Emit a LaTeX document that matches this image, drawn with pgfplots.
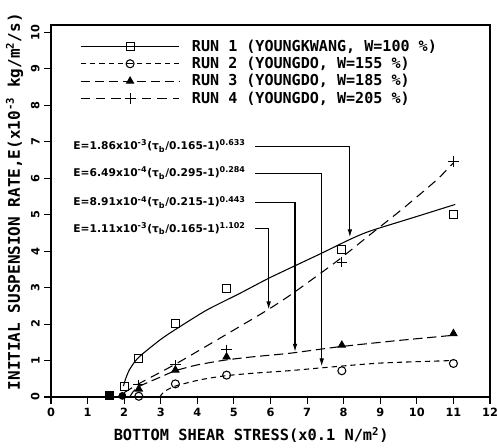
\documentclass[border=0pt]{standalone}
\usepackage{fontspec}
\setmainfont{DejaVu Sans}
\newfontfamily\plotter{DejaVu Sans Mono}
\usepackage{pgfplots}
\pgfplotsset{compat=1.18}
\usetikzlibrary{arrows.meta}

\begin{document}
\begin{tikzpicture}
\begin{axis}[
  scale only axis, width=329.25pt, height=279pt,
  xmin=0, xmax=12, ymin=0, ymax=10.2,
  xtick={0,...,12}, ytick={0,...,10},
  tick pos=left, tick align=outside, major tick length=5pt,
  axis line style={line width=0.9pt},
  every tick/.style={black, line width=0.8pt},
  /pgf/number format/assume math mode=true,
  tick label style={font=\bfseries\fontsize{8.5}{10}\selectfont},
  yticklabel={\rotatebox{90}{\pgfmathprintnumber{\tick}}},
  xlabel={\plotter\bfseries\fontsize{11.5}{13}\selectfont BOTTOM SHEAR STRESS(x0.1 N/m\textsuperscript{2})},
  xlabel style={at={(axis description cs:0.456,0)}, anchor=center, yshift=-28.5pt},
  ylabel={\plotter\bfseries\fontsize{12}{14}\selectfont INITIAL SUSPENSION RATE,E(x10\textsuperscript{-3} kg/m\textsuperscript{2}/s)},
  ylabel style={at={(axis description cs:-0.083,0.525)}, anchor=center, rotate=0},
  legend style={draw=none, fill=none, at={(0.066,0.965)}, anchor=north west,
    inner sep=0pt, row sep=1pt,
    nodes={inner sep=1pt, anchor=west},
    font=\plotter\bfseries\fontsize{11.3}{12}\selectfont},
  legend image code/.code={\draw[mark repeat=2,mark phase=2,#1] plot coordinates {(0pt,0pt) (37pt,0pt) (74pt,0pt)};},
  every axis plot/.append style={black, line width=0.8pt},
]
\addlegendimage{solid, mark=square, mark size=3pt, mark options={solid}}
\addlegendentry{\hspace*{8pt}RUN 1 (YOUNGKWANG, W=100 \%)}
\addlegendimage{dash pattern=on 4pt off 3pt, mark=o, mark size=3pt, mark options={solid}}
\addlegendentry{\hspace*{8pt}RUN 2 (YOUNGDO, W=155 \%)}
\addlegendimage{dash pattern=on 7pt off 3.5pt, mark=triangle*, mark size=3pt, mark options={solid}}
\addlegendentry{\hspace*{8pt}RUN 3 (YOUNGDO, W=185 \%)}
\addlegendimage{dash pattern=on 7pt off 4.5pt, mark=+, mark size=4pt, mark options={solid}}
\addlegendentry{\hspace*{8pt}RUN 4 (YOUNGDO, W=205 \%)}

% fitted curves
\addplot[solid, smooth, tension=0.4, no markers, forget plot] coordinates {
  (1.98,0.3) (2.04,0.5) (2.14,0.74) (2.3,0.98) (2.5,1.18) (3.0,1.58) (3.4,1.85) (4.25,2.38)
  (5.16,2.84) (6.0,3.28) (7.35,3.92) (8.17,4.32) (8.72,4.55) (10.0,4.95) (11.05,5.28)};
\addplot[dash pattern=on 4pt off 3pt, smooth, tension=0.4, no markers, forget plot] coordinates {
  (2.97,0.0) (3.1,0.15) (3.4,0.3) (4.07,0.47) (4.75,0.58) (5.5,0.65) (6.5,0.72)
  (7.4,0.8) (9.0,0.93) (11.0,1.0)};
\addplot[dash pattern=on 7pt off 3.5pt, smooth, tension=0.4, no markers, forget plot] coordinates {
  (2.15,0.0) (2.25,0.15) (2.43,0.3) (3.0,0.55) (3.4,0.72) (4.0,0.88) (4.75,1.01)
  (5.5,1.1) (6.53,1.2) (7.9,1.38) (9.5,1.55) (11.08,1.7)};
\addplot[dash pattern=on 7pt off 4.5pt, smooth, tension=0.4, no markers, forget plot] coordinates {
  (2.0,0.12) (2.43,0.38) (3.4,0.9) (4.8,1.72) (5.94,2.4) (6.62,2.85) (7.81,3.72)
  (8.72,4.45) (9.6,5.15) (10.54,5.95) (11.0,6.42)};

% measured points
\addplot[only marks, mark=square, mark size=3pt, forget plot] coordinates {
  (2.0,0.28) (2.4,1.05) (3.4,2.02) (4.8,2.97) (7.95,4.05) (11.0,5.0)};
\addplot[only marks, mark=o, mark size=3pt, forget plot] coordinates {
  (2.4,0.02) (3.4,0.36) (4.8,0.6) (7.95,0.72) (11.0,0.92)};
\addplot[only marks, mark=triangle*, mark size=3pt, forget plot] coordinates {
  (2.4,0.22) (3.4,0.74) (4.8,1.1) (7.95,1.42) (11.0,1.74)};
\addplot[only marks, mark=+, mark size=4pt, forget plot] coordinates {
  (2.4,0.33) (3.4,0.88) (4.8,1.29) (7.95,3.7) (11.0,6.45)};
\addplot[only marks, mark=square*, mark size=3pt, forget plot] coordinates {(1.6,0.03)};
\addplot[only marks, mark=*, mark size=2.5pt, forget plot] coordinates {(1.95,0.03)};

% fitted equations
\tikzset{eq/.style={anchor=west, inner sep=1pt, font=\bfseries\fontsize{8}{9}\selectfont},
  arr/.style={line width=0.8pt, -{Latex[length=6pt,width=3.5pt]}}}
\node[eq] (e1) at (axis cs:0.57,6.88) {E=1.86x10\textsuperscript{-3}(τ\textsubscript{b}/0.165-1)\textsuperscript{0.633}};
\node[eq] (e2) at (axis cs:0.57,6.14) {E=6.49x10\textsuperscript{-4}(τ\textsubscript{b}/0.295-1)\textsuperscript{0.284}};
\node[eq] (e3) at (axis cs:0.57,5.34) {E=8.91x10\textsuperscript{-4}(τ\textsubscript{b}/0.215-1)\textsuperscript{0.443}};
\node[eq] (e4) at (axis cs:0.57,4.62) {E=1.11x10\textsuperscript{-3}(τ\textsubscript{b}/0.165-1)\textsuperscript{1.102}};
\draw[arr] ([xshift=6pt]e1.east) -| (axis cs:8.17,4.38);
\draw[arr] ([xshift=6pt]e2.east) -| (axis cs:7.4,0.84);
\draw[arr] ([xshift=6pt]e3.east) -| (axis cs:6.67,1.24);
\draw[arr] ([xshift=6pt]e4.east) -| (axis cs:5.95,2.4);

\coordinate (bl) at (rel axis cs:0,0);
\coordinate (tr) at (rel axis cs:1,1);
\end{axis}
\pgfresetboundingbox
\path ([shift={(-38.25pt,-38.25pt)}]bl) rectangle ([shift={(6pt,18.75pt)}]tr);
\end{tikzpicture}
\end{document}
